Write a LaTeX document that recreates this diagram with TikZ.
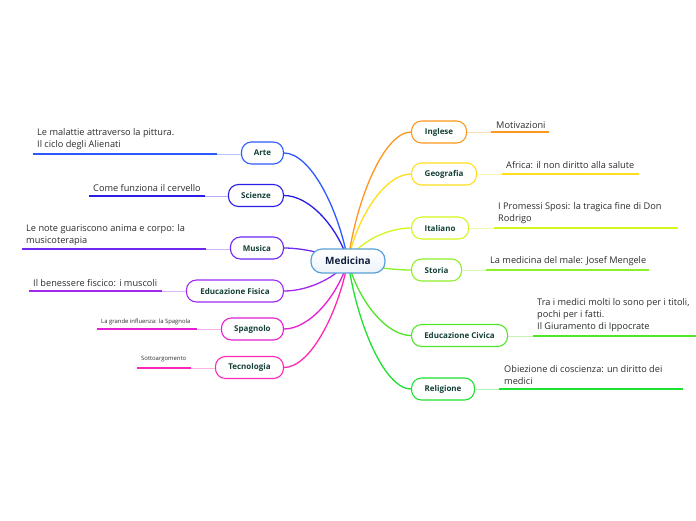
\documentclass[tikz,border=0pt]{standalone}
\usepackage{fontspec}
\setmainfont{Open Sans}
\usetikzlibrary{backgrounds}
\definecolor{cArte}{RGB}{45,90,255}
\definecolor{cSci}{RGB}{40,30,230}
\definecolor{cMus}{RGB}{110,40,240}
\definecolor{cFis}{RGB}{160,40,240}
\definecolor{cSpa}{RGB}{230,30,210}
\definecolor{cTec}{RGB}{255,40,180}
\definecolor{cIng}{RGB}{255,150,30}
\definecolor{cGeo}{RGB}{255,222,30}
\definecolor{cIta}{RGB}{215,245,30}
\definecolor{cSto}{RGB}{140,240,40}
\definecolor{cCiv}{RGB}{80,230,40}
\definecolor{cRel}{RGB}{30,225,50}
\definecolor{labtext}{RGB}{20,64,55}
\definecolor{bodytext}{RGB}{45,45,45}
\definecolor{medborder}{RGB}{90,160,215}
\definecolor{medtext}{RGB}{15,30,60}
\tikzset{
  topic/.style={draw=#1, line width=1.1pt, rounded corners=10pt, fill=white,
    minimum height=22pt, inner sep=0pt, font=\fontsize{8}{9}\selectfont\bfseries, text=labtext},
  branch/.style={draw=#1, line width=1.3pt},
  faint/.style={draw=#1!35, line width=1pt},
  strong/.style={draw=#1, line width=1.6pt},
  detail/.style={inner sep=0pt, align=left, font=\fontsize{9.2}{12}\selectfont, text=bodytext},
  smalldetail/.style={inner sep=0pt, align=left, font=\fontsize{5.9}{6}\selectfont, text=bodytext},
}
\begin{document}
\begin{tikzpicture}[x=1pt,y=-1pt]
\useasboundingbox (0,0) rectangle (696,520);

% center
\node[draw=medborder, line width=1.2pt, rounded corners=11pt, top color=white, bottom color=medborder!12,
  minimum width=74pt, minimum height=24pt, inner sep=0pt, font=\fontsize{10}{12}\selectfont\bfseries, text=medtext]
  (med) at (348,261) {Medicina};

% left topics
\node[topic=cArte, minimum width=42pt, anchor=east] (arte) at (284,153) {Arte};
\node[topic=cSci, minimum width=55pt, anchor=east] (sci) at (284,195.5) {Scienze};
\node[topic=cMus, minimum width=53pt, anchor=east] (mus) at (284,248) {Musica};
\node[topic=cFis, minimum width=97pt, anchor=east] (fis) at (284,291) {Educazione Fisica};
\node[topic=cSpa, minimum width=62pt, anchor=east] (spa) at (284,329) {Spagnolo};
\node[topic=cTec, minimum width=68pt, anchor=east] (tec) at (284,367.5) {Tecnologia};
% right topics
\node[topic=cIng, minimum width=55pt, anchor=west] (ing) at (411,132) {Inglese};
\node[topic=cGeo, minimum width=65pt, anchor=west] (geo) at (411,174) {Geografia};
\node[topic=cIta, minimum width=57pt, anchor=west] (ita) at (411,228) {Italiano};
\node[topic=cSto, minimum width=50pt, anchor=west] (sto) at (411,270) {Storia};
\node[topic=cCiv, minimum width=96pt, anchor=west] (civ) at (411,335.5) {Educazione Civica};
\node[topic=cRel, minimum width=63pt, anchor=west] (rel) at (411,389) {Religione};

% branches (behind)
\begin{pgfonlayer}{background}
\fill[white] (0,0) rectangle (696,520);
\draw[branch=cArte] (arte.east) .. controls (310,153) and (338,207) .. (med.center);
\draw[branch=cSci] (sci.east) .. controls (310,195.5) and (338,228) .. (med.center);
\draw[branch=cMus] (mus.east) .. controls (305,248) and (330,255) .. (med.center);
\draw[branch=cFis] (fis.east) .. controls (310,291) and (338,276) .. (med.center);
\draw[branch=cSpa] (spa.east) .. controls (310,329) and (338,295) .. (med.center);
\draw[branch=cTec] (tec.east) .. controls (310,367.5) and (338,314) .. (med.center);
\draw[branch=cIng] (ing.west) .. controls (385,132) and (357,196) .. (med.center);
\draw[branch=cGeo] (geo.west) .. controls (385,174) and (357,217) .. (med.center);
\draw[branch=cIta] (ita.west) .. controls (385,228) and (357,244) .. (med.center);
\draw[branch=cSto] (sto.west) .. controls (390,270) and (365,266) .. (med.center);
\draw[branch=cCiv] (civ.west) .. controls (385,335.5) and (357,298) .. (med.center);
\draw[branch=cRel] (rel.west) .. controls (385,389) and (357,325) .. (med.center);
\end{pgfonlayer}

% detail lines: left
\coordinate (arteA) at (217,154); \coordinate (arteB) at (33,154);
\coordinate (sciA) at (205,196); \coordinate (sciB) at (89,196);
\coordinate (musA) at (206,249); \coordinate (musB) at (22,249);
\coordinate (fisA) at (162,291); \coordinate (fisB) at (29,291);
\coordinate (spaA) at (197,329); \coordinate (spaB) at (97,329);
\coordinate (tecA) at (191,368); \coordinate (tecB) at (137,368);
\draw[faint=cArte] (arte.west |- arteA) -- (arteA); \draw[strong=cArte] (arteA) -- (arteB);
\draw[faint=cSci] (sci.west |- sciA) -- (sciA); \draw[strong=cSci] (sciA) -- (sciB);
\draw[faint=cMus] (mus.west |- musA) -- (musA); \draw[strong=cMus] (musA) -- (musB);
\draw[faint=cFis] (fis.west |- fisA) -- (fisA); \draw[strong=cFis] (fisA) -- (fisB);
\draw[faint=cSpa] (spa.west |- spaA) -- (spaA); \draw[strong=cSpa] (spaA) -- (spaB);
\draw[faint=cTec] (tec.west |- tecA) -- (tecA); \draw[strong=cTec] (tecA) -- (tecB);
% detail lines: right
\coordinate (ingA) at (491,132); \coordinate (ingB) at (549,132);
\coordinate (geoA) at (502,174); \coordinate (geoB) at (639,174);
\coordinate (itaA) at (494,228); \coordinate (itaB) at (678,228);
\coordinate (stoA) at (486,270); \coordinate (stoB) at (649,270);
\coordinate (civA) at (533,336); \coordinate (civB) at (696,336);
\coordinate (relA) at (499,389); \coordinate (relB) at (683,389);
\draw[faint=cIng] (ing.east |- ingA) -- (ingA); \draw[strong=cIng] (ingA) -- (ingB);
\draw[faint=cGeo] (geo.east |- geoA) -- (geoA); \draw[strong=cGeo] (geoA) -- (geoB);
\draw[faint=cIta] (ita.east |- itaA) -- (itaA); \draw[strong=cIta] (itaA) -- (itaB);
\draw[faint=cSto] (sto.east |- stoA) -- (stoA); \draw[strong=cSto] (stoA) -- (stoB);
\draw[faint=cCiv] (civ.east |- civA) -- (civA); \draw[strong=cCiv] (civA) -- (civB);
\draw[faint=cRel] (rel.east |- relA) -- (relA); \draw[strong=cRel] (relA) -- (relB);

% texts
\node[detail, anchor=south west] (tArte) at (37,150) {Le malattie attraverso la pittura.\\Il ciclo degli Alienati};
\node[detail, anchor=south west] (tSci) at (93,192) {Come funziona il cervello};
\node[detail, anchor=south west] (tMus) at (26,246) {Le note guariscono anima e corpo: la\\musicoterapia};
\node[detail, anchor=south west] (tFis) at (33,287) {Il benessere fiscico: i muscoli};
\node[smalldetail, anchor=south west] (tSpa) at (101,325) {La grande influenza: la Spagnola};
\node[smalldetail, anchor=south west] (tTec) at (141,362) {Sottoargomento};
\node[detail, anchor=south west] (tIng) at (496,129) {Motivazioni};
\node[detail, anchor=south west] (tGeo) at (506,169) {Africa: il non diritto alla salute};
\node[detail, anchor=south west] (tIta) at (498,224) {I Promessi Sposi: la tragica fine di Don\\Rodrigo};
\node[detail, anchor=south west] (tSto) at (490,266) {La medicina del male: Josef Mengele};
\node[detail, anchor=south west] (tCiv) at (537,332) {Tra i medici molti lo sono per i titoli,\\pochi per i fatti.\\Il Giuramento di Ippocrate};
\node[detail, anchor=south west] (tRel) at (504,385) {Obiezione di coscienza: un diritto dei\\medici};
\end{tikzpicture}
\end{document}
